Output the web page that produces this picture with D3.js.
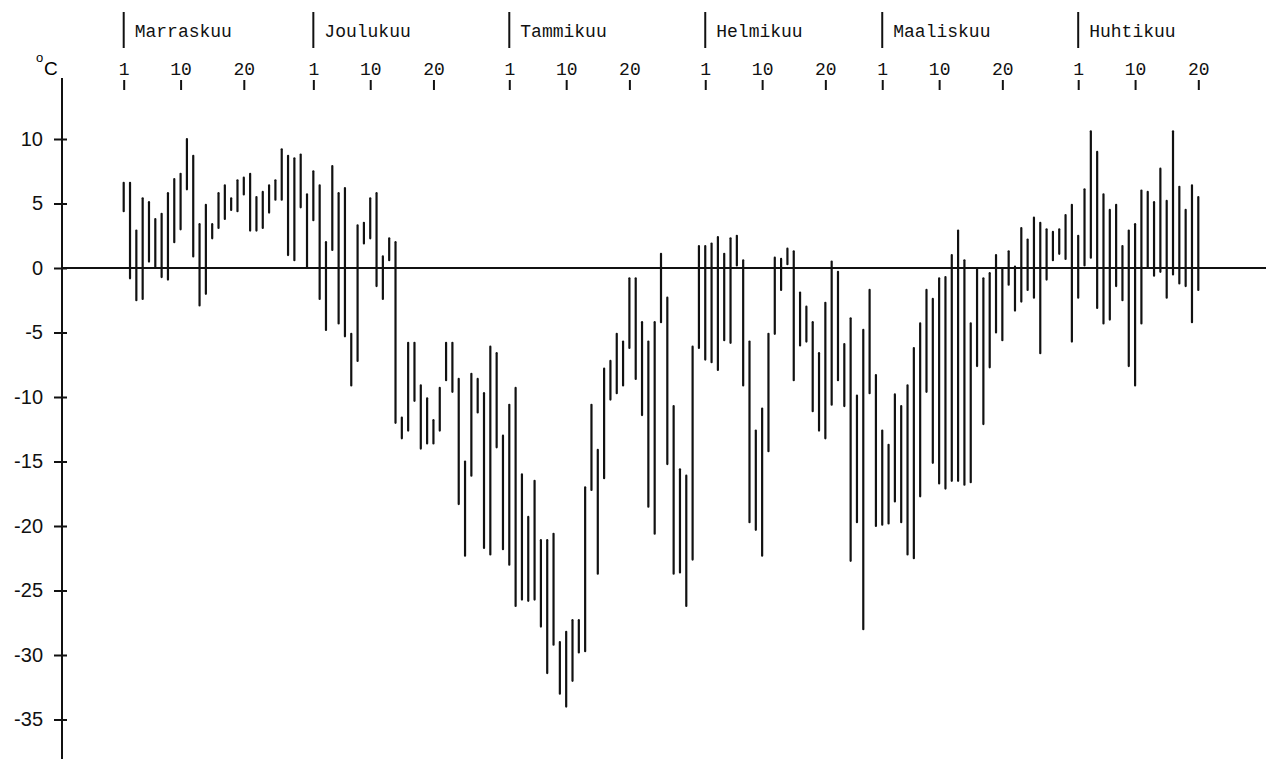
<!DOCTYPE html>
<html>
<head>
<meta charset="utf-8">
<script src="https://cdn.jsdelivr.net/npm/d3@7"></script>
<style>
  body { margin: 0; background: #fff; }
  .mono { font-family: "Liberation Mono", "DejaVu Sans Mono", monospace; }
  .sans { font-family: "Liberation Sans", Arial, sans-serif; }
  .bar { stroke: #111; stroke-width: 2.2; stroke-linecap: round; }
  .axis-line { stroke: #111; stroke-width: 2; }
</style>
</head>
<body>
<div id="chart"></div>
<script>
// months shown (Nov - Apr) and their lengths
const monthNames = ["Marraskuu", "Joulukuu", "Tammikuu", "Helmikuu", "Maaliskuu", "Huhtikuu"];
const monthDays = [30, 31, 31, 28, 31, 30];
const dayTicks = [1, 10, 20];
const yTicks = [10, 5, 0, -5, -10, -15, -20, -25, -30, -35];

// daily max / min temperatures, °C
const maxNov = [6.6, 6.6, 2.9, 5.4, 5.1, 3.8, 4.2, 5.8, 6.9, 7.3, 10.0, 8.7, 3.4, 4.9, 3.4, 5.8, 6.4, 5.4, 6.8, 7.0, 7.3, 5.5, 5.9, 6.4, 6.8, 9.2, 8.7, 8.5, 8.8, 5.7];
const minNov = [4.4, -0.8, -2.5, -2.4, 0.5, 0.1, -0.7, -0.9, 2.0, 3.0, 6.1, 0.9, -2.9, -2.0, 2.3, 3.1, 3.8, 4.5, 4.4, 5.7, 2.9, 2.9, 3.1, 4.3, 5.3, 5.3, 1.0, 0.6, 4.7, 0.0];
const maxDec = [7.5, 6.4, 2.0, 7.9, 5.8, 6.2, -5.1, 3.3, 3.5, 5.4, 5.8, 0.9, 2.3, 2.0, -11.6, -5.8, -5.8, -9.1, -10.1, -11.8, -9.3, -5.8, -5.8, -8.6, -15.0, -8.2, -8.6, -9.7, -6.1, -6.6, -13.0];
const minDec = [3.7, -2.4, -4.8, 1.4, -4.3, -5.3, -9.1, -7.2, 1.9, 2.3, -1.4, -2.4, 0.6, -12.0, -13.2, -12.6, -10.3, -14.0, -13.6, -13.6, -12.6, -8.7, -9.6, -18.3, -22.3, -16.1, -11.2, -21.7, -22.2, -13.9, -21.8];
const maxJan = [-10.6, -9.3, -16.0, -19.3, -16.5, -21.1, -21.1, -20.6, -29.0, -28.2, -27.3, -27.3, -17.0, -10.6, -14.1, -7.8, -7.2, -5.1, -5.7, -0.8, -0.8, -4.2, -5.7, -4.2, 1.1, -2.3, -10.7, -15.6, -16.1, -6.1, 1.7];
const minJan = [-23.0, -26.2, -25.7, -25.8, -25.7, -27.8, -31.4, -29.2, -33.0, -34.0, -32.0, -29.8, -29.7, -17.2, -23.7, -16.3, -10.2, -9.7, -9.1, -6.2, -8.6, -11.4, -18.5, -20.6, -4.2, -15.2, -23.7, -23.6, -26.2, -22.6, -6.2];
const maxFeb = [1.7, 1.9, 2.4, 1.1, 2.3, 2.5, 0.6, -5.7, -12.6, -10.9, -5.1, 0.8, 0.7, 1.5, 1.3, -1.9, -3.0, -4.2, -6.6, -2.7, 0.5, -0.3, -5.9, -3.9, -9.9, -4.8, -1.7, -8.3];
const minFeb = [-7.1, -7.3, -7.9, -5.6, -5.8, 0.2, -9.1, -19.7, -20.3, -22.3, -14.2, -5.1, -1.7, 0.3, -8.7, -6.0, -5.7, -11.1, -12.6, -13.2, -10.6, -8.7, -10.7, -22.7, -19.7, -28.0, -9.7, -20.0];
const maxMar = [-12.6, -13.7, -9.8, -10.7, -9.1, -6.2, -4.3, -1.7, -2.4, -0.8, -0.7, 1.0, 2.9, 0.6, -4.3, 0.0, -0.8, -0.4, 1.0, 0.0, 1.3, 0.1, 3.1, 2.2, 3.9, 3.5, 3.0, 2.8, 3.0, 4.1, 4.9];
const minMar = [-19.9, -19.8, -18.1, -19.7, -22.2, -22.5, -17.7, -9.6, -15.1, -16.7, -17.1, -16.5, -16.5, -16.8, -16.6, -7.6, -12.1, -7.7, -5.0, -5.6, -1.3, -3.3, -2.6, -1.7, -2.3, -6.6, -0.9, 0.6, 1.1, 0.7, -5.7];
const maxApr = [2.5, 6.1, 10.6, 9.0, 5.7, 4.5, 4.9, 1.7, 2.9, 3.4, 6.0, 5.9, 5.1, 7.7, 5.2, 10.6, 6.3, 4.5, 6.4, 5.5];
const minApr = [-2.3, 0.2, 0.8, -3.1, -4.3, -4.0, -1.4, -2.5, -7.6, -9.1, -4.3, 0.0, -0.6, -0.3, -2.3, -0.5, -1.2, -1.4, -4.2, -1.7];

const maxByMonth = [maxNov, maxDec, maxJan, maxFeb, maxMar, maxApr];
const minByMonth = [minNov, minDec, minJan, minFeb, minMar, minApr];

const width = 1269, height = 759;
const axisX = 62;

// first day index of every month
const monthStart = [0].concat(Array.from(d3.cumsum(monthDays)).slice(0, -1));

const rows = [];
maxByMonth.forEach(function (arr, m) {
  arr.forEach(function (v, i) {
    rows.push({ idx: monthStart[m] + i, max: v, min: minByMonth[m][i] });
  });
});

const x = d3.scaleLinear().domain([0, 170]).range([123.7, 1198.3]);
const y = d3.scaleLinear().domain([10, -35]).range([139, 719.5]);

const svg = d3.select("#chart").append("svg")
  .attr("width", width)
  .attr("height", height);

// y axis
svg.append("line").attr("class", "axis-line")
  .attr("x1", axisX).attr("x2", axisX)
  .attr("y1", 80).attr("y2", height);

const gy = svg.append("g")
  .attr("transform", `translate(${axisX},0)`)
  .call(d3.axisLeft(y).tickValues(yTicks).tickSize(8).tickPadding(11)
    .tickFormat(function (d) { return d < 0 ? "-" + Math.abs(d) : d; }));
gy.select(".domain").remove();
gy.selectAll(".tick line").attr("stroke", "#111").attr("stroke-width", 2);
gy.selectAll(".tick").append("line")
  .attr("x1", 0).attr("x2", 5)
  .attr("stroke", "#111").attr("stroke-width", 2);
gy.selectAll(".tick text")
  .attr("class", "sans")
  .style("font-size", "20px")
  .attr("fill", "#111");

// zero line
svg.append("line").attr("class", "axis-line")
  .attr("x1", axisX).attr("x2", 1266)
  .attr("y1", y(0)).attr("y2", y(0));

// unit
svg.append("text").attr("class", "sans")
  .attr("x", 36).attr("y", 62)
  .style("font-size", "13px").text("o");
svg.append("text").attr("class", "sans")
  .attr("x", 44).attr("y", 75)
  .style("font-size", "19px").text("C");

// day ticks along top
const tickIdx = [], tickLab = {};
monthStart.forEach(function (s) {
  dayTicks.forEach(function (d) {
    tickIdx.push(s + d - 1);
    tickLab[s + d - 1] = d;
  });
});
svg.append("line").attr("class", "axis-line")
  .attr("x1", axisX).attr("x2", axisX).attr("y1", 78).attr("y2", 90);

const gx = svg.append("g")
  .attr("transform", "translate(0,90)")
  .call(d3.axisTop(x).tickValues(tickIdx).tickSize(10).tickPadding(5)
    .tickFormat(function (d) { return tickLab[d]; }));
gx.select(".domain").remove();
gx.selectAll(".tick line").attr("stroke", "#111").attr("stroke-width", 2);
gx.selectAll(".tick text")
  .attr("class", "mono")
  .style("font-size", "18px")
  .attr("fill", "#111");

// month markers
const months = svg.append("g").selectAll("g")
  .data(monthNames)
  .enter().append("g")
  .attr("transform", function (d, i) { return `translate(${x(monthStart[i])},0)`; });
months.append("line").attr("class", "axis-line")
  .attr("y1", 12).attr("y2", 48);
months.append("text").attr("class", "mono")
  .attr("x", 11).attr("y", 37)
  .style("font-size", "18px")
  .attr("fill", "#111")
  .text(function (d) { return d; });

// daily range bars
svg.append("g").selectAll("line")
  .data(rows)
  .enter().append("line")
  .attr("class", "bar")
  .attr("x1", function (d) { return x(d.idx); })
  .attr("x2", function (d) { return x(d.idx); })
  .attr("y1", function (d) { return y(d.max); })
  .attr("y2", function (d) { return y(d.min); });
</script>
</body>
</html>
